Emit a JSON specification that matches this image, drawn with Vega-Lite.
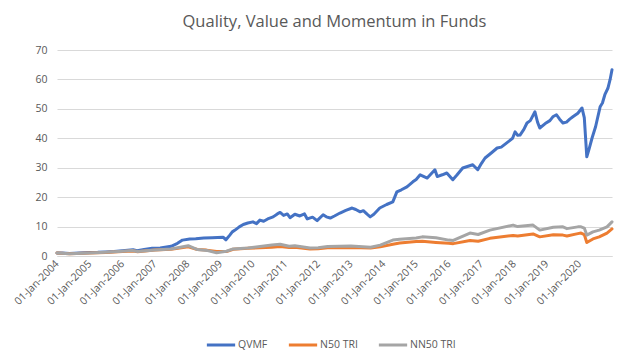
{
  "$schema": "https://vega.github.io/schema/vega-lite/v6.json",
  "autosize": {"type": "none"},
  "width": 555,
  "height": 206,
  "padding": {"left": 57, "top": 50, "right": 25, "bottom": 101},
  "background": "#ffffff",
  "title": {
    "text": "Quality, Value and Momentum in Funds",
    "anchor": "middle",
    "frame": "group",
    "offset": 15,
    "fontSize": 16.5,
    "font": "Open Sans",
    "fontWeight": "normal",
    "color": "#595959"
  },
  "config": {
    "view": {"stroke": null},
    "font": "Open Sans"
  },
  "data": {
    "values": [
      {"date": "2004-01-01", "series": "QVMF", "value": 1.0},
      {"date": "2004-03-01", "series": "QVMF", "value": 1.05},
      {"date": "2004-05-20", "series": "QVMF", "value": 0.85},
      {"date": "2004-09-01", "series": "QVMF", "value": 1.0},
      {"date": "2005-01-01", "series": "QVMF", "value": 1.2},
      {"date": "2005-04-01", "series": "QVMF", "value": 1.25},
      {"date": "2005-07-01", "series": "QVMF", "value": 1.4},
      {"date": "2005-10-01", "series": "QVMF", "value": 1.55},
      {"date": "2006-01-01", "series": "QVMF", "value": 1.8},
      {"date": "2006-05-01", "series": "QVMF", "value": 2.1},
      {"date": "2006-06-15", "series": "QVMF", "value": 1.8},
      {"date": "2006-09-01", "series": "QVMF", "value": 2.2},
      {"date": "2006-12-01", "series": "QVMF", "value": 2.6},
      {"date": "2007-03-01", "series": "QVMF", "value": 2.7},
      {"date": "2007-07-01", "series": "QVMF", "value": 3.3},
      {"date": "2007-09-10", "series": "QVMF", "value": 4.3},
      {"date": "2007-11-05", "series": "QVMF", "value": 5.4},
      {"date": "2008-01-25", "series": "QVMF", "value": 5.8},
      {"date": "2008-04-01", "series": "QVMF", "value": 5.9},
      {"date": "2008-07-01", "series": "QVMF", "value": 6.1},
      {"date": "2008-10-01", "series": "QVMF", "value": 6.2},
      {"date": "2008-12-01", "series": "QVMF", "value": 6.3},
      {"date": "2009-02-01", "series": "QVMF", "value": 6.4},
      {"date": "2009-03-05", "series": "QVMF", "value": 5.5},
      {"date": "2009-04-15", "series": "QVMF", "value": 7.0},
      {"date": "2009-05-15", "series": "QVMF", "value": 8.2},
      {"date": "2009-06-15", "series": "QVMF", "value": 8.8},
      {"date": "2009-08-01", "series": "QVMF", "value": 9.9},
      {"date": "2009-09-15", "series": "QVMF", "value": 10.7},
      {"date": "2009-11-05", "series": "QVMF", "value": 11.2},
      {"date": "2010-01-01", "series": "QVMF", "value": 11.6},
      {"date": "2010-02-10", "series": "QVMF", "value": 11.0},
      {"date": "2010-03-20", "series": "QVMF", "value": 12.2},
      {"date": "2010-05-01", "series": "QVMF", "value": 11.8},
      {"date": "2010-06-15", "series": "QVMF", "value": 12.6},
      {"date": "2010-08-15", "series": "QVMF", "value": 13.3},
      {"date": "2010-10-01", "series": "QVMF", "value": 14.3},
      {"date": "2010-11-01", "series": "QVMF", "value": 14.8},
      {"date": "2010-12-10", "series": "QVMF", "value": 13.8},
      {"date": "2011-01-20", "series": "QVMF", "value": 14.3},
      {"date": "2011-02-20", "series": "QVMF", "value": 13.0},
      {"date": "2011-04-15", "series": "QVMF", "value": 14.2},
      {"date": "2011-06-10", "series": "QVMF", "value": 13.6},
      {"date": "2011-08-01", "series": "QVMF", "value": 14.3},
      {"date": "2011-09-01", "series": "QVMF", "value": 12.6},
      {"date": "2011-10-30", "series": "QVMF", "value": 13.2},
      {"date": "2011-12-20", "series": "QVMF", "value": 12.0},
      {"date": "2012-02-25", "series": "QVMF", "value": 14.0},
      {"date": "2012-04-01", "series": "QVMF", "value": 13.3},
      {"date": "2012-05-15", "series": "QVMF", "value": 12.9},
      {"date": "2012-07-01", "series": "QVMF", "value": 13.6},
      {"date": "2012-09-01", "series": "QVMF", "value": 14.6},
      {"date": "2012-11-05", "series": "QVMF", "value": 15.5},
      {"date": "2013-01-15", "series": "QVMF", "value": 16.3},
      {"date": "2013-02-25", "series": "QVMF", "value": 15.8},
      {"date": "2013-04-15", "series": "QVMF", "value": 15.0},
      {"date": "2013-05-20", "series": "QVMF", "value": 15.4},
      {"date": "2013-07-01", "series": "QVMF", "value": 14.2},
      {"date": "2013-08-05", "series": "QVMF", "value": 13.3},
      {"date": "2013-09-15", "series": "QVMF", "value": 14.2},
      {"date": "2013-11-20", "series": "QVMF", "value": 16.3},
      {"date": "2014-02-05", "series": "QVMF", "value": 17.5},
      {"date": "2014-04-15", "series": "QVMF", "value": 18.4},
      {"date": "2014-05-30", "series": "QVMF", "value": 21.8},
      {"date": "2014-07-20", "series": "QVMF", "value": 22.5},
      {"date": "2014-09-20", "series": "QVMF", "value": 23.5},
      {"date": "2014-11-25", "series": "QVMF", "value": 25.2},
      {"date": "2015-01-01", "series": "QVMF", "value": 26.0},
      {"date": "2015-02-15", "series": "QVMF", "value": 27.6},
      {"date": "2015-03-30", "series": "QVMF", "value": 27.0},
      {"date": "2015-05-05", "series": "QVMF", "value": 26.5},
      {"date": "2015-07-30", "series": "QVMF", "value": 29.3},
      {"date": "2015-08-25", "series": "QVMF", "value": 27.0},
      {"date": "2015-10-20", "series": "QVMF", "value": 27.6},
      {"date": "2015-12-10", "series": "QVMF", "value": 28.2},
      {"date": "2016-02-15", "series": "QVMF", "value": 25.9},
      {"date": "2016-04-01", "series": "QVMF", "value": 27.5},
      {"date": "2016-06-05", "series": "QVMF", "value": 29.9},
      {"date": "2016-08-05", "series": "QVMF", "value": 30.5},
      {"date": "2016-09-25", "series": "QVMF", "value": 31.0},
      {"date": "2016-11-20", "series": "QVMF", "value": 29.3},
      {"date": "2017-01-01", "series": "QVMF", "value": 31.5},
      {"date": "2017-02-10", "series": "QVMF", "value": 33.3},
      {"date": "2017-04-20", "series": "QVMF", "value": 35.0},
      {"date": "2017-06-25", "series": "QVMF", "value": 36.7},
      {"date": "2017-08-10", "series": "QVMF", "value": 37.0},
      {"date": "2017-10-25", "series": "QVMF", "value": 38.8},
      {"date": "2017-12-15", "series": "QVMF", "value": 40.0},
      {"date": "2018-01-12", "series": "QVMF", "value": 42.2},
      {"date": "2018-02-10", "series": "QVMF", "value": 41.0},
      {"date": "2018-03-08", "series": "QVMF", "value": 41.1},
      {"date": "2018-04-20", "series": "QVMF", "value": 43.0},
      {"date": "2018-05-25", "series": "QVMF", "value": 45.2},
      {"date": "2018-07-01", "series": "QVMF", "value": 46.0},
      {"date": "2018-08-22", "series": "QVMF", "value": 49.0},
      {"date": "2018-09-20", "series": "QVMF", "value": 45.5},
      {"date": "2018-10-15", "series": "QVMF", "value": 43.5},
      {"date": "2018-12-15", "series": "QVMF", "value": 45.0},
      {"date": "2019-02-05", "series": "QVMF", "value": 46.0},
      {"date": "2019-03-10", "series": "QVMF", "value": 47.3},
      {"date": "2019-04-20", "series": "QVMF", "value": 48.0},
      {"date": "2019-05-25", "series": "QVMF", "value": 46.5},
      {"date": "2019-07-01", "series": "QVMF", "value": 45.2},
      {"date": "2019-08-10", "series": "QVMF", "value": 45.5},
      {"date": "2019-09-15", "series": "QVMF", "value": 46.5},
      {"date": "2019-10-20", "series": "QVMF", "value": 47.3},
      {"date": "2019-12-15", "series": "QVMF", "value": 48.5},
      {"date": "2020-01-30", "series": "QVMF", "value": 50.3},
      {"date": "2020-02-25", "series": "QVMF", "value": 47.0},
      {"date": "2020-03-15", "series": "QVMF", "value": 38.0},
      {"date": "2020-03-24", "series": "QVMF", "value": 33.7},
      {"date": "2020-04-20", "series": "QVMF", "value": 36.5},
      {"date": "2020-05-22", "series": "QVMF", "value": 40.1},
      {"date": "2020-07-01", "series": "QVMF", "value": 44.0},
      {"date": "2020-08-20", "series": "QVMF", "value": 50.7},
      {"date": "2020-09-15", "series": "QVMF", "value": 52.0},
      {"date": "2020-10-12", "series": "QVMF", "value": 54.8},
      {"date": "2020-11-15", "series": "QVMF", "value": 57.0},
      {"date": "2020-12-10", "series": "QVMF", "value": 60.0},
      {"date": "2020-12-31", "series": "QVMF", "value": 63.3},

      {"date": "2004-01-01", "series": "N50 TRI", "value": 1.0},
      {"date": "2004-05-20", "series": "N50 TRI", "value": 0.8},
      {"date": "2005-01-01", "series": "N50 TRI", "value": 1.0},
      {"date": "2005-07-01", "series": "N50 TRI", "value": 1.2},
      {"date": "2006-01-01", "series": "N50 TRI", "value": 1.5},
      {"date": "2006-05-10", "series": "N50 TRI", "value": 1.7},
      {"date": "2006-06-20", "series": "N50 TRI", "value": 1.45},
      {"date": "2007-01-01", "series": "N50 TRI", "value": 2.0},
      {"date": "2007-07-01", "series": "N50 TRI", "value": 2.3},
      {"date": "2008-01-08", "series": "N50 TRI", "value": 3.1},
      {"date": "2008-04-20", "series": "N50 TRI", "value": 2.2},
      {"date": "2008-08-01", "series": "N50 TRI", "value": 2.0},
      {"date": "2008-11-20", "series": "N50 TRI", "value": 1.5},
      {"date": "2009-03-10", "series": "N50 TRI", "value": 1.5},
      {"date": "2009-05-25", "series": "N50 TRI", "value": 2.3},
      {"date": "2009-11-05", "series": "N50 TRI", "value": 2.6},
      {"date": "2010-08-01", "series": "N50 TRI", "value": 3.0},
      {"date": "2010-11-01", "series": "N50 TRI", "value": 3.2},
      {"date": "2011-02-10", "series": "N50 TRI", "value": 2.9},
      {"date": "2011-04-15", "series": "N50 TRI", "value": 3.0},
      {"date": "2011-10-01", "series": "N50 TRI", "value": 2.4},
      {"date": "2012-01-01", "series": "N50 TRI", "value": 2.5},
      {"date": "2012-04-15", "series": "N50 TRI", "value": 2.8},
      {"date": "2013-01-01", "series": "N50 TRI", "value": 2.9},
      {"date": "2013-08-10", "series": "N50 TRI", "value": 2.7},
      {"date": "2013-11-25", "series": "N50 TRI", "value": 3.1},
      {"date": "2014-04-15", "series": "N50 TRI", "value": 4.0},
      {"date": "2014-07-01", "series": "N50 TRI", "value": 4.4},
      {"date": "2015-01-01", "series": "N50 TRI", "value": 4.9},
      {"date": "2015-03-10", "series": "N50 TRI", "value": 5.0},
      {"date": "2015-08-10", "series": "N50 TRI", "value": 4.6},
      {"date": "2016-01-01", "series": "N50 TRI", "value": 4.3},
      {"date": "2016-02-20", "series": "N50 TRI", "value": 4.2},
      {"date": "2016-08-25", "series": "N50 TRI", "value": 5.3},
      {"date": "2016-11-25", "series": "N50 TRI", "value": 5.0},
      {"date": "2017-04-05", "series": "N50 TRI", "value": 6.0},
      {"date": "2017-12-20", "series": "N50 TRI", "value": 7.0},
      {"date": "2018-02-10", "series": "N50 TRI", "value": 6.8},
      {"date": "2018-08-01", "series": "N50 TRI", "value": 7.5},
      {"date": "2018-10-15", "series": "N50 TRI", "value": 6.5},
      {"date": "2019-03-15", "series": "N50 TRI", "value": 7.2},
      {"date": "2019-07-01", "series": "N50 TRI", "value": 7.1},
      {"date": "2019-08-15", "series": "N50 TRI", "value": 6.8},
      {"date": "2019-12-15", "series": "N50 TRI", "value": 7.6},
      {"date": "2020-01-20", "series": "N50 TRI", "value": 7.8},
      {"date": "2020-02-25", "series": "N50 TRI", "value": 7.3},
      {"date": "2020-03-24", "series": "N50 TRI", "value": 4.6},
      {"date": "2020-06-01", "series": "N50 TRI", "value": 5.8},
      {"date": "2020-08-10", "series": "N50 TRI", "value": 6.5},
      {"date": "2020-11-05", "series": "N50 TRI", "value": 7.8},
      {"date": "2020-12-31", "series": "N50 TRI", "value": 9.2},

      {"date": "2004-01-01", "series": "NN50 TRI", "value": 1.0},
      {"date": "2004-05-20", "series": "NN50 TRI", "value": 0.8},
      {"date": "2005-01-01", "series": "NN50 TRI", "value": 1.0},
      {"date": "2005-07-01", "series": "NN50 TRI", "value": 1.25},
      {"date": "2006-01-01", "series": "NN50 TRI", "value": 1.6},
      {"date": "2006-04-20", "series": "NN50 TRI", "value": 1.85},
      {"date": "2006-06-20", "series": "NN50 TRI", "value": 1.5},
      {"date": "2007-01-01", "series": "NN50 TRI", "value": 2.0},
      {"date": "2007-07-01", "series": "NN50 TRI", "value": 2.4},
      {"date": "2008-01-08", "series": "NN50 TRI", "value": 3.5},
      {"date": "2008-04-20", "series": "NN50 TRI", "value": 2.2},
      {"date": "2008-08-01", "series": "NN50 TRI", "value": 1.9},
      {"date": "2008-11-20", "series": "NN50 TRI", "value": 1.1},
      {"date": "2009-03-10", "series": "NN50 TRI", "value": 1.6},
      {"date": "2009-05-25", "series": "NN50 TRI", "value": 2.4},
      {"date": "2009-11-05", "series": "NN50 TRI", "value": 2.7},
      {"date": "2010-08-01", "series": "NN50 TRI", "value": 3.7},
      {"date": "2010-11-01", "series": "NN50 TRI", "value": 4.0},
      {"date": "2011-02-10", "series": "NN50 TRI", "value": 3.3},
      {"date": "2011-04-15", "series": "NN50 TRI", "value": 3.5},
      {"date": "2011-10-01", "series": "NN50 TRI", "value": 2.7},
      {"date": "2012-01-01", "series": "NN50 TRI", "value": 2.8},
      {"date": "2012-04-15", "series": "NN50 TRI", "value": 3.2},
      {"date": "2013-01-01", "series": "NN50 TRI", "value": 3.4},
      {"date": "2013-08-10", "series": "NN50 TRI", "value": 3.0},
      {"date": "2013-11-25", "series": "NN50 TRI", "value": 3.7},
      {"date": "2014-04-15", "series": "NN50 TRI", "value": 5.4},
      {"date": "2014-07-01", "series": "NN50 TRI", "value": 5.7},
      {"date": "2015-01-01", "series": "NN50 TRI", "value": 6.1},
      {"date": "2015-03-10", "series": "NN50 TRI", "value": 6.5},
      {"date": "2015-08-10", "series": "NN50 TRI", "value": 6.2},
      {"date": "2016-01-01", "series": "NN50 TRI", "value": 5.4},
      {"date": "2016-02-20", "series": "NN50 TRI", "value": 5.3},
      {"date": "2016-08-25", "series": "NN50 TRI", "value": 7.8},
      {"date": "2016-11-25", "series": "NN50 TRI", "value": 7.3},
      {"date": "2017-04-05", "series": "NN50 TRI", "value": 8.8},
      {"date": "2017-12-20", "series": "NN50 TRI", "value": 10.5},
      {"date": "2018-02-10", "series": "NN50 TRI", "value": 10.0},
      {"date": "2018-08-01", "series": "NN50 TRI", "value": 10.5},
      {"date": "2018-10-15", "series": "NN50 TRI", "value": 8.8},
      {"date": "2019-03-15", "series": "NN50 TRI", "value": 9.8},
      {"date": "2019-07-01", "series": "NN50 TRI", "value": 9.9},
      {"date": "2019-08-15", "series": "NN50 TRI", "value": 9.3},
      {"date": "2019-12-15", "series": "NN50 TRI", "value": 9.9},
      {"date": "2020-01-20", "series": "NN50 TRI", "value": 9.9},
      {"date": "2020-02-25", "series": "NN50 TRI", "value": 9.5},
      {"date": "2020-03-24", "series": "NN50 TRI", "value": 7.1},
      {"date": "2020-06-01", "series": "NN50 TRI", "value": 8.2},
      {"date": "2020-08-10", "series": "NN50 TRI", "value": 8.8},
      {"date": "2020-11-05", "series": "NN50 TRI", "value": 9.9},
      {"date": "2020-12-31", "series": "NN50 TRI", "value": 11.6}
    ]
  },
  "mark": {"type": "line", "strokeWidth": 3, "strokeJoin": "round", "strokeCap": "round"},
  "encoding": {
    "x": {
      "field": "date",
      "type": "temporal",
      "scale": {"domain": ["2004-01-01", "2020-12-31"]},
      "axis": {
        "title": null,
        "format": "%d-%b-%Y",
        "tickCount": {"interval": "year", "step": 1},
        "labelAngle": -45,
        "labelAlign": "right",
        "labelBaseline": "middle",
        "labelFontSize": 10.5,
        "labelColor": "#595959",
        "labelPadding": 6,
        "labelOverlap": false,
        "labelFlush": false,
        "grid": false,
        "ticks": false,
        "domainColor": "#D9D9D9",
        "domainWidth": 1
      }
    },
    "y": {
      "field": "value",
      "type": "quantitative",
      "scale": {"domain": [0, 70], "nice": false},
      "axis": {
        "title": null,
        "values": [0, 10, 20, 30, 40, 50, 60, 70],
        "domain": false,
        "ticks": false,
        "grid": true,
        "gridColor": "#D9D9D9",
        "labelFontSize": 10.5,
        "labelColor": "#595959",
        "labelPadding": 10
      }
    },
    "color": {
      "field": "series",
      "type": "nominal",
      "scale": {"domain": ["QVMF", "N50 TRI", "NN50 TRI"], "range": ["#4472C4", "#ED7D31", "#A5A5A5"]},
      "legend": {
        "title": null,
        "orient": "none",
        "legendX": 148,
        "legendY": 279,
        "direction": "horizontal",
        "symbolType": "stroke",
        "symbolStrokeWidth": 3,
        "symbolSize": 800,
        "labelFontSize": 10.5,
        "labelOffset": 1,
        "labelColor": "#595959",
        "columnPadding": 14
      }
    }
  }
}
